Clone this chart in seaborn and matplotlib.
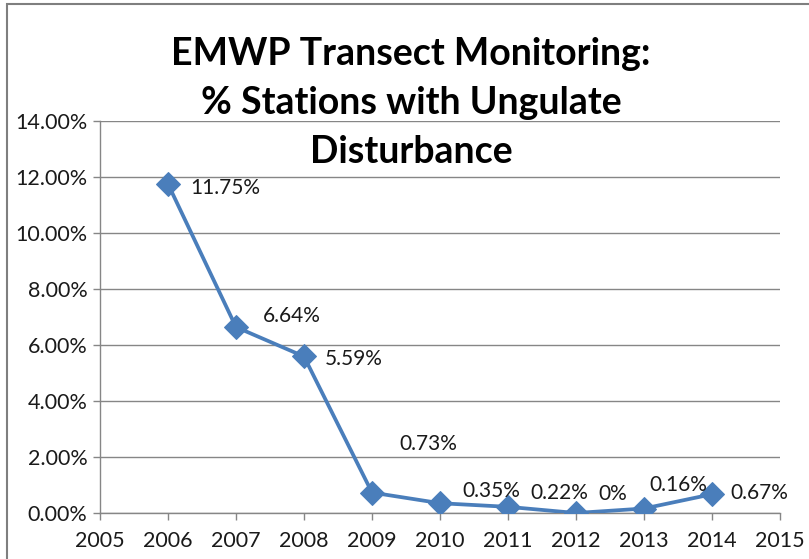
import numpy as np
import pandas as pd
import matplotlib
matplotlib.use('Agg')
import matplotlib.pyplot as plt
from matplotlib.ticker import FuncFormatter, MultipleLocator
from matplotlib.patches import Rectangle
import seaborn as sns

# Data
years = [2006, 2007, 2008, 2009, 2010, 2011, 2012, 2013, 2014]
pct_disturbed = [11.75, 6.64, 5.59, 0.73, 0.35, 0.22, 0.0, 0.16, 0.67]
title_lines = ["EMWP Transect Monitoring:", "% Stations with Ungulate", "Disturbance"]

df = pd.DataFrame({'year': years, 'pct': pct_disturbed})

sns.set_style('white')
plt.rcParams['font.family'] = ['Lato', 'DejaVu Sans']

LINE_BLUE = '#4a7ebb'
GRID_GRAY = '#868686'
TEXT_COLOR = '#1a1a1a'

fig = plt.figure(figsize=(8.09, 5.59), dpi=100)
ax = fig.add_axes([100 / 809, 1 - 513 / 559, 680 / 809, 392 / 559])

sns.lineplot(data=df, x='year', y='pct', ax=ax, color=LINE_BLUE, linewidth=2.7,
             marker='D', markersize=12, markeredgecolor=LINE_BLUE, zorder=3)

# Data labels (offsets in points, roughly where Excel put them)
label_offsets = [(16, -3), (19, 8), (15, -2), (20, 35), (16, 9), (16, 10), (16, 14), (4, 17), (13, 1)]
for x, y, off in zip(df['year'], df['pct'], label_offsets):
    txt = '0%' if y == 0 else f'{y:.2f}%'
    ax.annotate(txt, (x, y), xytext=off, textcoords='offset points',
                ha='left', va='center', fontsize=15, color=TEXT_COLOR)

ax.set_xlim(2005, 2015)
ax.set_ylim(0, 14)
ax.xaxis.set_major_locator(MultipleLocator(1))
ax.yaxis.set_major_locator(MultipleLocator(2))
ax.xaxis.set_major_formatter(FuncFormatter(lambda v, p: f'{int(v)}'))
ax.yaxis.set_major_formatter(FuncFormatter(lambda v, p: f'{v:.2f}%'))
ax.set_xlabel('')
ax.set_ylabel('')

ax.grid(axis='y', color=GRID_GRAY, linewidth=1)
ax.grid(axis='x', visible=False)
sns.despine(ax=ax, top=True, right=True)
for side in ['left', 'bottom']:
    ax.spines[side].set_color(GRID_GRAY)
    ax.spines[side].set_linewidth(1)

ax.tick_params(axis='both', which='major', direction='out', length=5, width=1,
               color=GRID_GRAY, labelsize=15.5, labelcolor=TEXT_COLOR)
ax.tick_params(axis='x', pad=8, bottom=True)
ax.tick_params(axis='y', pad=4, left=True)

# Title block, centered over the chart
for i, line in enumerate(title_lines):
    fig.text(411 / 809, 1 - (54 + 49 * i) / 559, line, ha='center', va='center',
             fontsize=27, fontweight='bold', color='black')

# Outer chart border (left and top edges visible in the crop)
fig.patches.append(Rectangle((7 / 809, -0.1), 1.2, 1 - 4 / 559 + 0.1,
                             transform=fig.transFigure, fill=False,
                             edgecolor='#7f7f7f', linewidth=1.5))

fig.savefig('out.png', dpi=100)
